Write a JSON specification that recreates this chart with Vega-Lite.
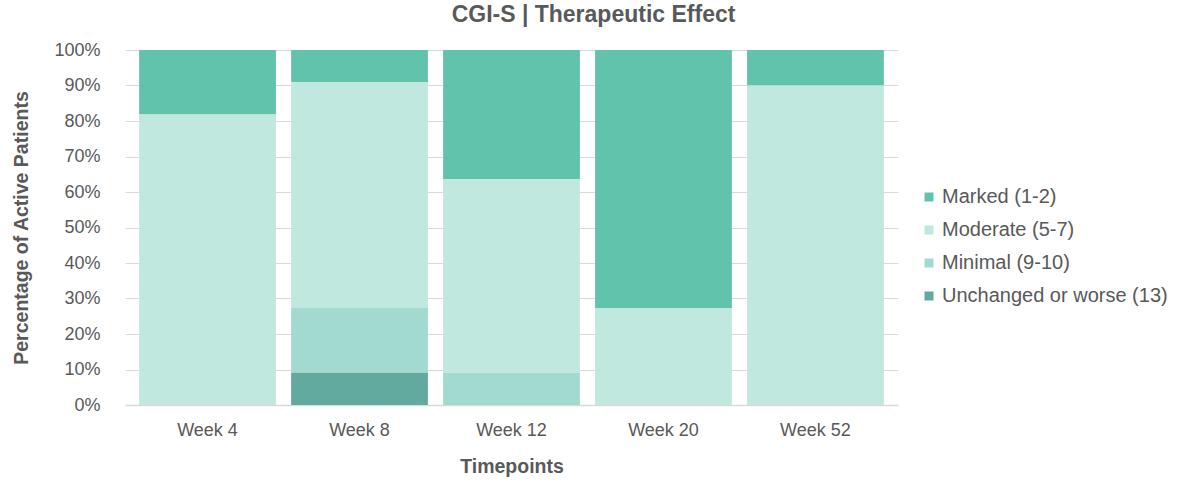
{
  "$schema": "https://vega.github.io/schema/vega-lite/v6.json",
  "autosize": {"type": "none"},
  "padding": {"left": 125, "top": 50, "right": 281, "bottom": 78},
  "width": 773,
  "height": 355,
  "background": "white",
  "title": {
    "text": "CGI-S | Therapeutic Effect",
    "font": "Liberation Sans",
    "fontSize": 23,
    "fontWeight": "bold",
    "color": "#595959",
    "anchor": "middle",
    "dx": 82,
    "offset": 14
  },
  "data": {
    "values": [
      {"week": "Week 4", "level": "Marked (1-2)", "rank": 4, "share": 0.182},
      {"week": "Week 4", "level": "Moderate (5-7)", "rank": 3, "share": 0.818},
      {"week": "Week 8", "level": "Marked (1-2)", "rank": 4, "share": 0.091},
      {"week": "Week 8", "level": "Moderate (5-7)", "rank": 3, "share": 0.636},
      {"week": "Week 8", "level": "Minimal (9-10)", "rank": 2, "share": 0.182},
      {"week": "Week 8", "level": "Unchanged or worse (13)", "rank": 1, "share": 0.091},
      {"week": "Week 12", "level": "Marked (1-2)", "rank": 4, "share": 0.364},
      {"week": "Week 12", "level": "Moderate (5-7)", "rank": 3, "share": 0.545},
      {"week": "Week 12", "level": "Minimal (9-10)", "rank": 2, "share": 0.091},
      {"week": "Week 20", "level": "Marked (1-2)", "rank": 4, "share": 0.727},
      {"week": "Week 20", "level": "Moderate (5-7)", "rank": 3, "share": 0.273},
      {"week": "Week 52", "level": "Marked (1-2)", "rank": 4, "share": 0.10},
      {"week": "Week 52", "level": "Moderate (5-7)", "rank": 3, "share": 0.90}
    ]
  },
  "mark": {"type": "bar"},
  "encoding": {
    "x": {
      "field": "week",
      "type": "nominal",
      "sort": ["Week 4", "Week 8", "Week 12", "Week 20", "Week 52"],
      "scale": {"paddingInner": 0.1, "paddingOuter": 0.093},
      "axis": {
        "title": "Timepoints",
        "titleFont": "Liberation Sans",
        "titleFontSize": 19.5,
        "titleFontWeight": "bold",
        "titleColor": "#595959",
        "titlePadding": 18,
        "labelFont": "Liberation Sans",
        "labelFontSize": 18,
        "labelColor": "#595959",
        "labelAngle": 0,
        "labelPadding": 16,
        "ticks": false,
        "domainColor": "#d9d9d9",
        "domainWidth": 1.5,
        "grid": false
      }
    },
    "y": {
      "field": "share",
      "type": "quantitative",
      "stack": "zero",
      "scale": {"domain": [0, 1], "nice": false},
      "axis": {
        "title": "Percentage of Active Patients",
        "titleFont": "Liberation Sans",
        "titleFontSize": 19.5,
        "titleFontWeight": "bold",
        "titleColor": "#595959",
        "titlePadding": 22,
        "labelFont": "Liberation Sans",
        "labelFontSize": 18,
        "labelColor": "#595959",
        "labelPadding": 25,
        "labelOverlap": false,
        "format": ".0%",
        "values": [0, 0.1, 0.2, 0.3, 0.4, 0.5, 0.6, 0.7, 0.8, 0.9, 1],
        "ticks": false,
        "domain": false,
        "grid": true,
        "gridColor": "#d9d9d9",
        "gridWidth": 1
      }
    },
    "color": {
      "field": "level",
      "type": "nominal",
      "scale": {
        "domain": ["Marked (1-2)", "Moderate (5-7)", "Minimal (9-10)", "Unchanged or worse (13)"],
        "range": ["#62c3ac", "#c0e8df", "#a2dad0", "#62a9a0"]
      },
      "legend": {
        "title": null,
        "orient": "none",
        "legendX": 794,
        "legendY": 137,
        "symbolType": "square",
        "symbolSize": 81,
        "symbolStrokeWidth": 0,
        "labelFont": "Liberation Sans",
        "labelFontSize": 20,
        "labelColor": "#595959",
        "labelOffset": 3,
        "labelLimit": 400,
        "rowPadding": 13
      }
    },
    "order": {"field": "rank", "type": "quantitative", "sort": "ascending"}
  },
  "config": {"view": {"stroke": null}}
}
